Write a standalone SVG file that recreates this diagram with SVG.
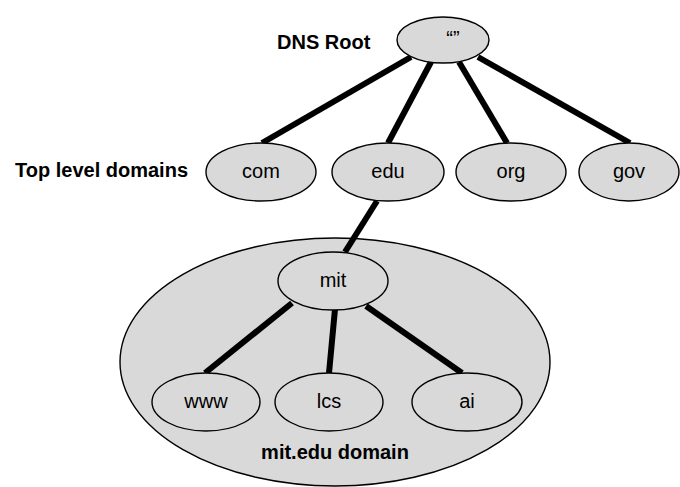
<svg xmlns="http://www.w3.org/2000/svg" width="680" height="487" viewBox="0 0 680 487">
<style>
.n{fill:#d9d9d9;stroke:#000;stroke-width:1.4}
.t{font-family:"Liberation Sans",Arial,sans-serif;font-size:20px;fill:#000;text-anchor:middle}
.b{font-family:"Liberation Sans",Arial,sans-serif;font-size:20px;font-weight:bold;fill:#000}
.c{stroke:#000;stroke-width:6;stroke-linecap:butt;fill:none}
</style>
<rect width="680" height="487" fill="#fff"/>
<g id="mit-domain">
<ellipse class="n" cx="335" cy="362" rx="215" ry="124"/>
<text class="b" x="335" y="459" text-anchor="middle">mit.edu domain</text>
</g>
<g id="connectors">
<line class="c" x1="411" y1="57" x2="262" y2="143"/>
<line class="c" x1="431" y1="62" x2="388" y2="143"/>
<line class="c" x1="459" y1="62" x2="507" y2="143"/>
<line class="c" x1="478" y1="57" x2="630" y2="143"/>
<line class="c" x1="377" y1="201" x2="345" y2="252"/>
<line class="c" x1="292" y1="303" x2="205" y2="373"/>
<line class="c" x1="335" y1="309" x2="329" y2="373"/>
<line class="c" x1="366" y1="306" x2="462" y2="373"/>
</g>
<g id="labels">
<text class="b" x="277" y="49">DNS Root</text>
<text class="b" x="15" y="177">Top level domains</text>
</g>
<g id="root">
<ellipse class="n" cx="443" cy="40" rx="46" ry="23"/>
<text class="t" x="453" y="45">“”</text>
</g>
<g id="com">
<ellipse class="n" cx="261" cy="172" rx="55" ry="29"/>
<text class="t" x="261" y="178">com</text>
</g>
<g id="edu">
<ellipse class="n" cx="388" cy="172" rx="56" ry="29"/>
<text class="t" x="388" y="178">edu</text>
</g>
<g id="org">
<ellipse class="n" cx="511" cy="172" rx="55" ry="29"/>
<text class="t" x="511" y="178">org</text>
</g>
<g id="gov">
<ellipse class="n" cx="629" cy="172" rx="50" ry="29"/>
<text class="t" x="629" y="178">gov</text>
</g>
<g id="mit">
<ellipse class="n" cx="333" cy="281" rx="55" ry="29"/>
<text class="t" x="333" y="287">mit</text>
</g>
<g id="www">
<ellipse class="n" cx="206" cy="402" rx="54" ry="29"/>
<text class="t" x="206" y="408">www</text>
</g>
<g id="lcs">
<ellipse class="n" cx="329" cy="402" rx="54" ry="29"/>
<text class="t" x="329" y="408">lcs</text>
</g>
<g id="ai">
<ellipse class="n" cx="467" cy="402" rx="55" ry="29"/>
<text class="t" x="467" y="408">ai</text>
</g>
</svg>
